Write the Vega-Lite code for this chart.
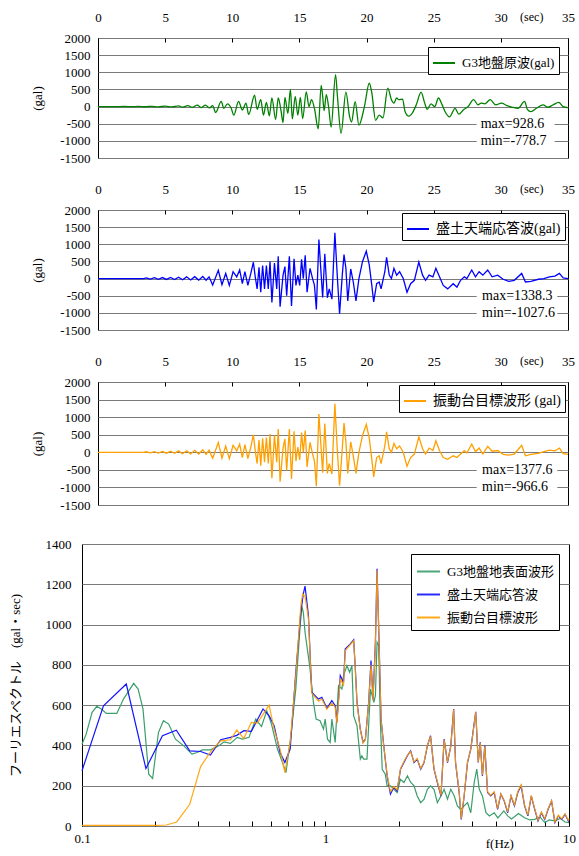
{
  "$schema": "https://vega.github.io/schema/vega-lite/v6.json",
  "background": "white",
  "padding": {"left": 8, "top": 10, "right": 4, "bottom": 2},
  "config": {
    "font": "Liberation Serif, Noto Sans CJK JP, serif",
    "view": {"stroke": "black", "strokeWidth": 1},
    "axis": {
      "labelFontSize": 13, "labelColor": "black", "labelFont": "Liberation Serif, Noto Sans CJK JP, serif",
      "titleFontSize": 13, "titleFontWeight": "normal", "titleColor": "black", "titleFont": "Liberation Serif, Noto Sans CJK JP, serif",
      "domain": false, "gridColor": "#7a7a7a", "gridWidth": 1, "gridOpacity": 1,
      "labelFlush": false, "labelOverlap": false, "tickCount": 100
    },
    "legend": {
      "labelColor": "black", "labelFont": "Liberation Serif, Noto Sans CJK JP, serif",
      "fillColor": "white", "strokeColor": "black", "symbolType": "stroke", "symbolStrokeWidth": 2,
      "labelLimit": 400, "cornerRadius": 0
    },
    "text": {"font": "Liberation Serif, Noto Sans CJK JP, serif", "color": "black"}
  },
  "datasets": {
    "g": [
      {"t":0,"a":0},{"t":1,"a":0},{"t":2,"a":2},{"t":2.5,"a":-3},{"t":3,"a":5},{"t":3.5,"a":-5},{"t":4,"a":8},{"t":4.5,"a":-8},{"t":5,"a":12},{"t":5.5,"a":-10},{"t":6,"a":20},{"t":6.3,"a":-15},{"t":6.7,"a":30},{"t":7,"a":-25},{"t":7.4,"a":40},{"t":7.7,"a":-30},{"t":8,"a":45},{"t":8.3,"a":-40},
      {"t":8.54,"a":30},{"t":8.76,"a":-170},{"t":9.18,"a":150},{"t":9.37,"a":-50},{"t":9.64,"a":80},{"t":9.92,"a":-50},{"t":10.11,"a":-250},{"t":10.47,"a":150},{"t":10.75,"a":-100},{"t":11.02,"a":100},{"t":11.22,"a":-230},{"t":11.66,"a":330},{"t":11.85,"a":-80},{"t":12.12,"a":200},{"t":12.32,"a":-250},{"t":12.54,"a":120},{"t":12.76,"a":-270},{"t":12.95,"a":250},{"t":13.23,"a":-380},{"t":13.42,"a":250},{"t":13.64,"a":-150},{"t":13.78,"a":-470},{"t":13.92,"a":270},{"t":14.14,"a":-200},{"t":14.33,"a":500},{"t":14.47,"a":-360},{"t":14.69,"a":300},{"t":14.88,"a":-250},{"t":15.07,"a":270},{"t":15.24,"a":-350},{"t":15.51,"a":430},{"t":15.71,"a":0},{"t":15.9,"a":200},{"t":16.12,"a":-60},{"t":16.4,"a":-650},{"t":16.62,"a":620},{"t":16.73,"a":300},{"t":16.84,"a":-120},{"t":17.0,"a":350},{"t":17.17,"a":0},{"t":17.36,"a":-600},{"t":17.69,"a":928.6},{"t":17.83,"a":300},{"t":18.1,"a":-778.7},{"t":18.46,"a":420},{"t":18.74,"a":-300},{"t":18.88,"a":-450},{"t":19.15,"a":140},{"t":19.43,"a":-540},{"t":19.84,"a":0},{"t":20.2,"a":680},{"t":20.39,"a":400},{"t":20.67,"a":-400},{"t":20.94,"a":-250},{"t":21.22,"a":-330},{"t":21.58,"a":540},{"t":21.85,"a":200},{"t":22.04,"a":100},{"t":22.24,"a":250},{"t":22.4,"a":200},{"t":22.68,"a":220},{"t":22.87,"a":-150},{"t":23.15,"a":-280},{"t":23.42,"a":-180},{"t":23.7,"a":50},{"t":24.06,"a":420},{"t":24.33,"a":100},{"t":24.52,"a":-80},{"t":24.8,"a":80},{"t":25.08,"a":0},{"t":25.35,"a":250},{"t":25.63,"a":50},{"t":25.85,"a":-150},{"t":26.18,"a":-300},{"t":26.59,"a":-50},{"t":26.87,"a":-220},{"t":27.2,"a":-100},{"t":27.56,"a":0},{"t":27.97,"a":200},{"t":28.3,"a":50},{"t":28.52,"a":100},{"t":28.8,"a":80},{"t":29.21,"a":200},{"t":29.62,"a":50},{"t":30.04,"a":100},{"t":30.45,"a":30},{"t":30.86,"a":-20},{"t":31.28,"a":-50},{"t":31.77,"a":150},{"t":31.97,"a":-80},{"t":32.24,"a":-150},{"t":32.65,"a":-50},{"t":33.15,"a":50},{"t":33.48,"a":-20},{"t":33.89,"a":50},{"t":34.31,"a":120},{"t":34.64,"a":0},{"t":35,"a":-30}
    ],
    "b": [
      {"t":0,"a":0},{"t":3.4,"a":0},{"t":3.6,"a":20},{"t":3.9,"a":-15},{"t":4.2,"a":25},{"t":4.5,"a":-20},{"t":4.8,"a":30},{"t":5.1,"a":-25},{"t":5.4,"a":35},{"t":5.7,"a":-30},{"t":6.0,"a":40},{"t":6.3,"a":-35},{"t":6.6,"a":50},{"t":6.9,"a":-40},{"t":7.2,"a":55},{"t":7.5,"a":-45},{"t":7.8,"a":60},{"t":8.05,"a":-50},
      {"t":8.27,"a":50},{"t":8.54,"a":-190},{"t":8.96,"a":240},{"t":9.23,"a":-180},{"t":9.51,"a":150},{"t":9.78,"a":-200},{"t":10.06,"a":200},{"t":10.33,"a":50},{"t":10.55,"a":250},{"t":10.75,"a":-150},{"t":10.94,"a":200},{"t":11.16,"a":-200},{"t":11.38,"a":150},{"t":11.57,"a":476},{"t":11.71,"a":50},{"t":11.85,"a":-300},{"t":11.99,"a":330},{"t":12.12,"a":-400},{"t":12.26,"a":380},{"t":12.4,"a":-300},{"t":12.54,"a":380},{"t":12.68,"a":-300},{"t":12.81,"a":500},{"t":12.95,"a":-700},{"t":13.14,"a":450},{"t":13.31,"a":-300},{"t":13.42,"a":650},{"t":13.56,"a":-820},{"t":13.78,"a":100},{"t":13.92,"a":350},{"t":14.05,"a":-500},{"t":14.25,"a":650},{"t":14.41,"a":-800},{"t":14.6,"a":580},{"t":14.74,"a":-200},{"t":14.88,"a":100},{"t":15.02,"a":-200},{"t":15.16,"a":560},{"t":15.29,"a":0},{"t":15.43,"a":680},{"t":15.57,"a":-400},{"t":15.79,"a":300},{"t":15.98,"a":0},{"t":16.12,"a":-200},{"t":16.26,"a":-900},{"t":16.45,"a":1140},{"t":16.62,"a":100},{"t":16.73,"a":-550},{"t":16.89,"a":720},{"t":17.08,"a":-560},{"t":17.22,"a":-300},{"t":17.42,"a":-600},{"t":17.64,"a":1338.3},{"t":17.83,"a":0},{"t":17.99,"a":-1027.6},{"t":18.19,"a":100},{"t":18.32,"a":700},{"t":18.46,"a":300},{"t":18.6,"a":-650},{"t":18.82,"a":280},{"t":19.01,"a":-100},{"t":19.21,"a":-650},{"t":19.43,"a":0},{"t":19.7,"a":500},{"t":19.98,"a":800},{"t":20.2,"a":400},{"t":20.39,"a":-200},{"t":20.53,"a":-680},{"t":20.75,"a":-150},{"t":20.94,"a":-100},{"t":21.08,"a":-300},{"t":21.36,"a":200},{"t":21.49,"a":620},{"t":21.69,"a":100},{"t":21.85,"a":0},{"t":22.04,"a":300},{"t":22.24,"a":100},{"t":22.46,"a":200},{"t":22.73,"a":0},{"t":23.01,"a":-400},{"t":23.28,"a":-150},{"t":23.56,"a":-50},{"t":23.89,"a":480},{"t":24.17,"a":100},{"t":24.39,"a":-50},{"t":24.66,"a":100},{"t":24.94,"a":50},{"t":25.16,"a":300},{"t":25.43,"a":50},{"t":25.71,"a":-200},{"t":26.04,"a":-300},{"t":26.45,"a":-150},{"t":26.73,"a":-250},{"t":27.0,"a":-50},{"t":27.28,"a":50},{"t":27.47,"a":0},{"t":27.83,"a":250},{"t":28.11,"a":50},{"t":28.38,"a":200},{"t":28.66,"a":100},{"t":29.02,"a":250},{"t":29.35,"a":50},{"t":29.76,"a":100},{"t":30.17,"a":-20},{"t":30.59,"a":-80},{"t":31.0,"a":-50},{"t":31.55,"a":150},{"t":31.83,"a":-100},{"t":32.24,"a":-80},{"t":32.79,"a":-20},{"t":33.2,"a":0},{"t":33.62,"a":50},{"t":34.03,"a":70},{"t":34.36,"a":150},{"t":34.64,"a":20},{"t":35,"a":0}
    ],
    "o": [
      {"t":0,"a":0},{"t":3.4,"a":0},{"t":3.6,"a":15},{"t":3.9,"a":-15},{"t":4.2,"a":20},{"t":4.5,"a":-20},{"t":4.8,"a":25},{"t":5.1,"a":-25},{"t":5.4,"a":30},{"t":5.7,"a":-30},{"t":6.0,"a":40},{"t":6.3,"a":-40},{"t":6.6,"a":45},{"t":6.9,"a":-45},{"t":7.2,"a":55},{"t":7.5,"a":-50},{"t":7.8,"a":70},{"t":8.05,"a":-60},
      {"t":8.27,"a":60},{"t":8.54,"a":-170},{"t":8.96,"a":280},{"t":9.23,"a":-170},{"t":9.51,"a":180},{"t":9.78,"a":-180},{"t":10.06,"a":200},{"t":10.33,"a":40},{"t":10.55,"a":230},{"t":10.75,"a":-150},{"t":10.94,"a":220},{"t":11.16,"a":-180},{"t":11.38,"a":150},{"t":11.57,"a":500},{"t":11.71,"a":40},{"t":11.85,"a":-320},{"t":11.99,"a":350},{"t":12.12,"a":-380},{"t":12.26,"a":400},{"t":12.4,"a":-280},{"t":12.54,"a":420},{"t":12.68,"a":-320},{"t":12.81,"a":520},{"t":12.95,"a":-740},{"t":13.14,"a":480},{"t":13.31,"a":-280},{"t":13.42,"a":660},{"t":13.56,"a":-840},{"t":13.78,"a":120},{"t":13.92,"a":380},{"t":14.05,"a":-520},{"t":14.25,"a":660},{"t":14.41,"a":-760},{"t":14.6,"a":600},{"t":14.74,"a":-250},{"t":14.88,"a":150},{"t":15.02,"a":-220},{"t":15.16,"a":560},{"t":15.29,"a":0},{"t":15.43,"a":620},{"t":15.57,"a":-420},{"t":15.79,"a":280},{"t":15.98,"a":-50},{"t":16.12,"a":-250},{"t":16.26,"a":-966.6},{"t":16.45,"a":1090},{"t":16.62,"a":80},{"t":16.73,"a":-580},{"t":16.89,"a":820},{"t":17.08,"a":-600},{"t":17.22,"a":-320},{"t":17.42,"a":-620},{"t":17.64,"a":1377.6},{"t":17.83,"a":0},{"t":17.99,"a":-950},{"t":18.19,"a":100},{"t":18.32,"a":830},{"t":18.46,"a":300},{"t":18.6,"a":-600},{"t":18.82,"a":300},{"t":19.01,"a":-100},{"t":19.21,"a":-600},{"t":19.43,"a":0},{"t":19.7,"a":480},{"t":19.98,"a":790},{"t":20.2,"a":400},{"t":20.39,"a":-200},{"t":20.53,"a":-700},{"t":20.75,"a":-150},{"t":20.94,"a":-100},{"t":21.08,"a":-320},{"t":21.36,"a":180},{"t":21.49,"a":580},{"t":21.69,"a":100},{"t":21.85,"a":0},{"t":22.04,"a":250},{"t":22.24,"a":100},{"t":22.46,"a":180},{"t":22.73,"a":0},{"t":23.01,"a":-400},{"t":23.28,"a":-150},{"t":23.56,"a":-50},{"t":23.89,"a":440},{"t":24.17,"a":100},{"t":24.39,"a":-50},{"t":24.66,"a":120},{"t":24.94,"a":50},{"t":25.16,"a":330},{"t":25.43,"a":50},{"t":25.71,"a":-150},{"t":26.04,"a":-200},{"t":26.45,"a":-100},{"t":26.73,"a":-150},{"t":27.0,"a":-50},{"t":27.28,"a":50},{"t":27.47,"a":-20},{"t":27.83,"a":230},{"t":28.11,"a":20},{"t":28.38,"a":120},{"t":28.66,"a":-50},{"t":29.02,"a":170},{"t":29.35,"a":30},{"t":29.76,"a":50},{"t":30.17,"a":-60},{"t":30.59,"a":-80},{"t":31.0,"a":-50},{"t":31.55,"a":200},{"t":31.83,"a":-100},{"t":32.24,"a":-60},{"t":32.79,"a":-30},{"t":33.2,"a":20},{"t":33.62,"a":60},{"t":34.03,"a":40},{"t":34.36,"a":120},{"t":34.64,"a":-40},{"t":35,"a":-60}
    ],
    "sg": [
      {"f":0.1,"v":406},{"f":0.104,"v":456},{"f":0.11,"v":564},{"f":0.115,"v":594},{"f":0.12,"v":581},{"f":0.126,"v":559},{"f":0.139,"v":559},{"f":0.148,"v":630},{"f":0.163,"v":708},{"f":0.17,"v":680},{"f":0.178,"v":581},{"f":0.188,"v":257},{"f":0.195,"v":236},{"f":0.206,"v":464},{"f":0.216,"v":523},{"f":0.227,"v":506},{"f":0.242,"v":431},{"f":0.262,"v":398},{"f":0.283,"v":357},{"f":0.297,"v":365},{"f":0.312,"v":378},{"f":0.337,"v":378},{"f":0.365,"v":398},{"f":0.383,"v":418},{"f":0.407,"v":410},{"f":0.434,"v":440},{"f":0.456,"v":431},{"f":0.485,"v":440},{"f":0.517,"v":531},{"f":0.546,"v":494},{"f":0.574,"v":572},{"f":0.6,"v":506},{"f":0.635,"v":382},{"f":0.666,"v":315},{"f":0.688,"v":265},{"f":0.721,"v":448},{"f":0.755,"v":680},{"f":0.787,"v":995},{"f":0.8,"v":1090},{"f":0.811,"v":1060},{"f":0.824,"v":962},{"f":0.864,"v":780},{"f":0.892,"v":614},{"f":0.915,"v":531},{"f":0.95,"v":523},{"f":0.981,"v":481},{"f":0.997,"v":531},{"f":1.019,"v":431},{"f":1.045,"v":415},{"f":1.062,"v":531},{"f":1.096,"v":415},{"f":1.131,"v":697},{"f":1.168,"v":680},{"f":1.186,"v":747},{"f":1.225,"v":796},{"f":1.256,"v":763},{"f":1.284,"v":796},{"f":1.305,"v":547},{"f":1.347,"v":498},{"f":1.39,"v":332},{"f":1.41,"v":348},{"f":1.435,"v":332},{"f":1.48,"v":332},{"f":1.53,"v":680},{"f":1.58,"v":614},{"f":1.603,"v":647},{"f":1.628,"v":912},{"f":1.654,"v":896},{"f":1.68,"v":514},{"f":1.71,"v":282},{"f":1.76,"v":257},{"f":1.79,"v":199},{"f":1.85,"v":199},{"f":1.91,"v":182},{"f":1.97,"v":166},{"f":2.03,"v":232},{"f":2.1,"v":216},{"f":2.17,"v":249},{"f":2.24,"v":216},{"f":2.31,"v":199},{"f":2.38,"v":149},{"f":2.46,"v":116},{"f":2.54,"v":133},{"f":2.62,"v":182},{"f":2.7,"v":199},{"f":2.79,"v":182},{"f":2.88,"v":116},{"f":2.98,"v":149},{"f":3.07,"v":182},{"f":3.17,"v":133},{"f":3.27,"v":182},{"f":3.38,"v":149},{"f":3.48,"v":100},{"f":3.59,"v":83},{"f":3.71,"v":100},{"f":3.83,"v":116},{"f":3.95,"v":66},{"f":4.08,"v":216},{"f":4.18,"v":282},{"f":4.28,"v":182},{"f":4.41,"v":149},{"f":4.56,"v":66},{"f":4.71,"v":50},{"f":4.93,"v":66},{"f":5.1,"v":40},{"f":5.25,"v":58},{"f":5.4,"v":75},{"f":5.6,"v":50},{"f":5.8,"v":35},{"f":5.97,"v":46},{"f":6.2,"v":62},{"f":6.57,"v":41},{"f":6.9,"v":30},{"f":7.23,"v":33},{"f":7.6,"v":45},{"f":7.95,"v":17},{"f":8.3,"v":30},{"f":8.75,"v":25},{"f":9.2,"v":38},{"f":9.63,"v":20},{"f":10,"v":17}
    ],
    "sb": [
      {"f":0.1,"v":274},{"f":0.1225,"v":597},{"f":0.152,"v":705},{"f":0.183,"v":285},{"f":0.214,"v":448},{"f":0.244,"v":476},{"f":0.277,"v":373},{"f":0.307,"v":370},{"f":0.337,"v":352},{"f":0.371,"v":428},{"f":0.407,"v":440},{"f":0.432,"v":450},{"f":0.462,"v":473},{"f":0.496,"v":470},{"f":0.554,"v":581},{"f":0.587,"v":547},{"f":0.615,"v":498},{"f":0.651,"v":365},{"f":0.681,"v":315},{"f":0.716,"v":382},{"f":0.755,"v":763},{"f":0.792,"v":1062},{"f":0.81,"v":1150},{"f":0.824,"v":1191},{"f":0.851,"v":1045},{"f":0.878,"v":664},{"f":0.906,"v":647},{"f":0.936,"v":630},{"f":0.966,"v":639},{"f":1.013,"v":584},{"f":1.062,"v":622},{"f":1.096,"v":597},{"f":1.114,"v":514},{"f":1.15,"v":747},{"f":1.186,"v":713},{"f":1.205,"v":879},{"f":1.264,"v":904},{"f":1.305,"v":924},{"f":1.326,"v":780},{"f":1.347,"v":614},{"f":1.39,"v":481},{"f":1.426,"v":415},{"f":1.458,"v":431},{"f":1.504,"v":614},{"f":1.538,"v":821},{"f":1.567,"v":630},{"f":1.603,"v":912},{"f":1.628,"v":1277},{"f":1.654,"v":979},{"f":1.691,"v":531},{"f":1.735,"v":398},{"f":1.791,"v":249},{"f":1.848,"v":158},{"f":1.907,"v":191},{"f":1.969,"v":174},{"f":2.033,"v":282},{"f":2.099,"v":315},{"f":2.167,"v":348},{"f":2.237,"v":373},{"f":2.31,"v":315},{"f":2.38,"v":332},{"f":2.46,"v":282},{"f":2.54,"v":315},{"f":2.62,"v":398},{"f":2.7,"v":448},{"f":2.79,"v":282},{"f":2.88,"v":216},{"f":2.98,"v":149},{"f":3.07,"v":431},{"f":3.17,"v":315},{"f":3.27,"v":398},{"f":3.36,"v":581},{"f":3.42,"v":315},{"f":3.54,"v":166},{"f":3.61,"v":33},{"f":3.71,"v":149},{"f":3.83,"v":315},{"f":3.95,"v":382},{"f":4.05,"v":481},{"f":4.14,"v":567},{"f":4.24,"v":315},{"f":4.32,"v":415},{"f":4.41,"v":249},{"f":4.51,"v":398},{"f":4.63,"v":166},{"f":4.77,"v":149},{"f":4.93,"v":166},{"f":5.09,"v":83},{"f":5.25,"v":158},{"f":5.42,"v":124},{"f":5.6,"v":66},{"f":5.78,"v":149},{"f":5.97,"v":100},{"f":6.16,"v":166},{"f":6.36,"v":199},{"f":6.57,"v":100},{"f":6.78,"v":50},{"f":7.0,"v":149},{"f":7.23,"v":83},{"f":7.46,"v":25},{"f":7.7,"v":66},{"f":7.95,"v":33},{"f":8.21,"v":83},{"f":8.48,"v":124},{"f":8.75,"v":17},{"f":9.04,"v":50},{"f":9.33,"v":33},{"f":9.63,"v":58},{"f":9.94,"v":25},{"f":10,"v":33}
    ],
    "so": [
      {"f":0.1,"v":3},{"f":0.15,"v":3},{"f":0.2,"v":3},{"f":0.222,"v":5},{"f":0.245,"v":20},{"f":0.277,"v":108},{"f":0.307,"v":295},{"f":0.337,"v":368},{"f":0.371,"v":423},{"f":0.407,"v":428},{"f":0.432,"v":476},{"f":0.462,"v":435},{"f":0.496,"v":514},{"f":0.525,"v":511},{"f":0.587,"v":600},{"f":0.615,"v":481},{"f":0.651,"v":382},{"f":0.681,"v":265},{"f":0.716,"v":415},{"f":0.755,"v":747},{"f":0.792,"v":1095},{"f":0.806,"v":1153},{"f":0.824,"v":1140},{"f":0.851,"v":1030},{"f":0.878,"v":660},{"f":0.906,"v":640},{"f":0.936,"v":620},{"f":0.966,"v":630},{"f":1.013,"v":580},{"f":1.062,"v":610},{"f":1.096,"v":590},{"f":1.114,"v":510},{"f":1.15,"v":730},{"f":1.186,"v":700},{"f":1.205,"v":870},{"f":1.264,"v":900},{"f":1.305,"v":920},{"f":1.326,"v":775},{"f":1.347,"v":610},{"f":1.39,"v":478},{"f":1.426,"v":412},{"f":1.458,"v":428},{"f":1.504,"v":610},{"f":1.538,"v":800},{"f":1.567,"v":625},{"f":1.603,"v":900},{"f":1.628,"v":1270},{"f":1.654,"v":975},{"f":1.691,"v":528},{"f":1.735,"v":395},{"f":1.791,"v":255},{"f":1.848,"v":170},{"f":1.907,"v":195},{"f":1.969,"v":180},{"f":2.033,"v":285},{"f":2.099,"v":320},{"f":2.167,"v":350},{"f":2.237,"v":370},{"f":2.31,"v":318},{"f":2.38,"v":335},{"f":2.46,"v":285},{"f":2.54,"v":318},{"f":2.62,"v":400},{"f":2.7,"v":445},{"f":2.79,"v":285},{"f":2.88,"v":220},{"f":2.98,"v":152},{"f":3.07,"v":428},{"f":3.17,"v":318},{"f":3.27,"v":395},{"f":3.36,"v":578},{"f":3.42,"v":318},{"f":3.54,"v":170},{"f":3.61,"v":36},{"f":3.71,"v":152},{"f":3.83,"v":318},{"f":3.95,"v":380},{"f":4.05,"v":478},{"f":4.14,"v":565},{"f":4.24,"v":318},{"f":4.32,"v":412},{"f":4.41,"v":252},{"f":4.51,"v":395},{"f":4.63,"v":170},{"f":4.77,"v":152},{"f":4.93,"v":170},{"f":5.09,"v":86},{"f":5.25,"v":160},{"f":5.42,"v":126},{"f":5.6,"v":70},{"f":5.78,"v":152},{"f":5.97,"v":104},{"f":6.16,"v":170},{"f":6.36,"v":205},{"f":6.57,"v":104},{"f":6.78,"v":54},{"f":7.0,"v":152},{"f":7.23,"v":86},{"f":7.46,"v":28},{"f":7.7,"v":70},{"f":7.95,"v":36},{"f":8.21,"v":86},{"f":8.48,"v":126},{"f":8.75,"v":20},{"f":9.04,"v":54},{"f":9.33,"v":36},{"f":9.63,"v":60},{"f":9.94,"v":28},{"f":10,"v":36}
    ]
  },
  "spacing": 24,
  "resolve": {"scale": {"x": "independent", "y": "independent", "color": "independent"}, "legend": {"color": "independent"}},
  "vconcat": [
    {
      "bounds": "flush",
      "spacing": 15,
      "resolve": {"scale": {"x": "independent", "y": "independent", "color": "independent"}, "legend": {"color": "independent"}},
      "hconcat": [
        {
          "width": 1, "height": 1,
          "view": {"stroke": null},
          "data": {"values": []},
          "mark": {"type": "point", "opacity": 0}
        },
        {
          "spacing": 16,
          "resolve": {"scale": {"x": "independent", "y": "independent", "color": "independent"}, "legend": {"color": "independent"}},
          "vconcat": [
            {
              "width": 470, "height": 120,
              "layer": [
                {
                  "data": {"values": [{}]},
                  "mark": {"type": "rect", "color": "white"},
                  "encoding": {"x": {"datum": 28.2}, "x2": {"datum": 34.0}, "y": {"datum": -360}, "y2": {"datum": -1160}}
                },
                {
                  "data": {"name": "g"},
                  "mark": {"type": "line", "interpolate": "monotone", "strokeWidth": 1.3},
                  "encoding": {
                    "x": {"field": "t", "type": "quantitative", "scale": {"domain": [0, 35], "nice": false},
                      "axis": {"orient": "top", "values": [0,5,10,15,20,25,30,35], "tickCount": 100, "format": "d", "title": null, "grid": false, "ticks": true, "tickSize": -4, "tickColor": "black", "labelPadding": 18}},
                    "y": {"field": "a", "type": "quantitative", "scale": {"domain": [-1500, 2000], "nice": false},
                      "axis": {"values": [-1500,-1000,-500,0,500,1000,1500,2000], "tickCount": 100, "labelExpr": "'' + datum.value", "title": "(gal)", "titlePadding": 15, "labelPadding": 8, "ticks": false, "grid": true}},
                    "color": {"datum": "G3地盤原波(gal)", "scale": {"range": ["#008000"]},
                      "legend": {"title": null, "orient": "top-right", "offset": 9, "symbolSize": 484, "labelFontSize": 13, "labelOffset": 6, "padding": 4}}
                  }
                },
                {
                  "data": {"values": [{}]},
                  "mark": {"type": "text", "align": "left", "baseline": "middle", "fontSize": 14},
                  "encoding": {"x": {"datum": 28.5}, "y": {"datum": -500}, "text": {"value": "max=928.6"}}
                },
                {
                  "data": {"values": [{}]},
                  "mark": {"type": "text", "align": "left", "baseline": "middle", "fontSize": 14},
                  "encoding": {"x": {"datum": 28.5}, "y": {"datum": -1000}, "text": {"value": "min=-778.7"}}
                },
                {
                  "data": {"values": [{}]},
                  "mark": {"type": "text", "align": "center", "baseline": "middle", "fontSize": 12, "dy": -21},
                  "encoding": {"x": {"datum": 32.3}, "y": {"datum": 2000}, "text": {"value": "(sec)"}}
                }
              ]
            },
            {
              "width": 470, "height": 120,
              "layer": [
                {
                  "data": {"values": [{}]},
                  "mark": {"type": "rect", "color": "white"},
                  "encoding": {"x": {"datum": 28.2}, "x2": {"datum": 34.2}, "y": {"datum": -360}, "y2": {"datum": -1160}}
                },
                {
                  "data": {"name": "b"},
                  "mark": {"type": "line", "strokeWidth": 1.3},
                  "encoding": {
                    "x": {"field": "t", "type": "quantitative", "scale": {"domain": [0, 35], "nice": false},
                      "axis": {"orient": "top", "values": [0,5,10,15,20,25,30,35], "tickCount": 100, "format": "d", "title": null, "grid": false, "ticks": true, "tickSize": -4, "tickColor": "black", "labelPadding": 18}},
                    "y": {"field": "a", "type": "quantitative", "scale": {"domain": [-1500, 2000], "nice": false},
                      "axis": {"values": [-1500,-1000,-500,0,500,1000,1500,2000], "tickCount": 100, "labelExpr": "'' + datum.value", "title": "(gal)", "titlePadding": 15, "labelPadding": 8, "ticks": false, "grid": true}},
                    "color": {"datum": "盛土天端応答波(gal)", "scale": {"range": ["#0000ff"]},
                      "legend": {"title": null, "orient": "top-right", "offset": 3, "symbolSize": 484, "labelFontSize": 14, "labelOffset": 6, "padding": 4}}
                  }
                },
                {
                  "data": {"values": [{}]},
                  "mark": {"type": "text", "align": "left", "baseline": "middle", "fontSize": 14},
                  "encoding": {"x": {"datum": 28.6}, "y": {"datum": -500}, "text": {"value": "max=1338.3"}}
                },
                {
                  "data": {"values": [{}]},
                  "mark": {"type": "text", "align": "left", "baseline": "middle", "fontSize": 14},
                  "encoding": {"x": {"datum": 28.6}, "y": {"datum": -1000}, "text": {"value": "min=-1027.6"}}
                },
                {
                  "data": {"values": [{}]},
                  "mark": {"type": "text", "align": "center", "baseline": "middle", "fontSize": 12, "dy": -21},
                  "encoding": {"x": {"datum": 32.3}, "y": {"datum": 2000}, "text": {"value": "(sec)"}}
                }
              ]
            },
            {
              "width": 470, "height": 123,
              "layer": [
                {
                  "data": {"values": [{}]},
                  "mark": {"type": "rect", "color": "white"},
                  "encoding": {"x": {"datum": 28.2}, "x2": {"datum": 34.2}, "y": {"datum": -360}, "y2": {"datum": -1160}}
                },
                {
                  "data": {"name": "o"},
                  "mark": {"type": "line", "strokeWidth": 1.3},
                  "encoding": {
                    "x": {"field": "t", "type": "quantitative", "scale": {"domain": [0, 35], "nice": false},
                      "axis": {"orient": "top", "values": [0,5,10,15,20,25,30,35], "tickCount": 100, "format": "d", "title": null, "grid": false, "ticks": true, "tickSize": -4, "tickColor": "black", "labelPadding": 18}},
                    "y": {"field": "a", "type": "quantitative", "scale": {"domain": [-1500, 2000], "nice": false},
                      "axis": {"values": [-1500,-1000,-500,0,500,1000,1500,2000], "tickCount": 100, "labelExpr": "'' + datum.value", "title": "(gal)", "titlePadding": 15, "labelPadding": 8, "ticks": false, "grid": true}},
                    "color": {"datum": "振動台目標波形 (gal)", "scale": {"range": ["#ffa000"]},
                      "legend": {"title": null, "orient": "top-right", "offset": 3, "symbolSize": 484, "labelFontSize": 14, "labelOffset": 6, "padding": 4}}
                  }
                },
                {
                  "data": {"values": [{}]},
                  "mark": {"type": "text", "align": "left", "baseline": "middle", "fontSize": 14},
                  "encoding": {"x": {"datum": 28.6}, "y": {"datum": -500}, "text": {"value": "max=1377.6"}}
                },
                {
                  "data": {"values": [{}]},
                  "mark": {"type": "text", "align": "left", "baseline": "middle", "fontSize": 14},
                  "encoding": {"x": {"datum": 28.6}, "y": {"datum": -1000}, "text": {"value": "min=-966.6"}}
                },
                {
                  "data": {"values": [{}]},
                  "mark": {"type": "text", "align": "center", "baseline": "middle", "fontSize": 12, "dy": -21},
                  "encoding": {"x": {"datum": 32.3}, "y": {"datum": 2000}, "text": {"value": "(sec)"}}
                }
              ]
            }
          ]
        }
      ]
    },
    {
      "width": 487, "height": 282,
      "layer": [
        {
          "data": {"name": "sg"},
          "mark": {"type": "line", "strokeWidth": 1.2},
          "encoding": {
            "x": {"field": "f", "type": "quantitative", "scale": {"type": "log", "domain": [0.1, 10], "nice": false},
              "axis": {"values": [0.1,0.2,0.3,0.4,0.5,0.6,0.7,0.8,0.9,1,2,3,4,5,6,7,8,9,10], "tickCount": 100, "format": "~g",
                "labelExpr": "datum.value == 0.1 || datum.value == 1 || datum.value == 10 ? datum.label : ''",
                "title": null, "grid": false, "ticks": true, "tickSize": -5, "tickColor": "black", "labelPadding": 11}},
            "y": {"field": "v", "type": "quantitative", "scale": {"domain": [0, 1400], "nice": false},
              "axis": {"values": [0,200,400,600,800,1000,1200,1400], "tickCount": 100, "labelExpr": "'' + datum.value", "title": "フーリエスペクトル　(gal・sec)", "titlePadding": 23, "labelPadding": 11, "ticks": false, "grid": true}},
            "color": {"datum": "G3地盤地表面波形",
              "scale": {"domain": ["G3地盤地表面波形", "盛土天端応答波", "振動台目標波形"], "range": ["#3a9e6c", "#1414ff", "#ffa000"]},
              "legend": {"title": null, "orient": "top-right", "offset": 10, "symbolSize": 529, "labelFontSize": 13, "labelOffset": 6, "padding": 5, "rowPadding": 3}}
          }
        },
        {
          "data": {"name": "sb"},
          "mark": {"type": "line", "strokeWidth": 1.2},
          "encoding": {
            "x": {"field": "f", "type": "quantitative"},
            "y": {"field": "v", "type": "quantitative"},
            "color": {"datum": "盛土天端応答波"}
          }
        },
        {
          "data": {"name": "so"},
          "mark": {"type": "line", "strokeWidth": 1.2, "opacity": 0.9},
          "encoding": {
            "x": {"field": "f", "type": "quantitative"},
            "y": {"field": "v", "type": "quantitative"},
            "color": {"datum": "振動台目標波形"}
          }
        },
        {
          "data": {"values": [{}]},
          "mark": {"type": "text", "align": "center", "baseline": "middle", "fontSize": 13, "dy": 18},
          "encoding": {"x": {"datum": 5.2}, "y": {"datum": 0}, "text": {"value": "f(Hz)"}}
        }
      ]
    }
  ]
}
